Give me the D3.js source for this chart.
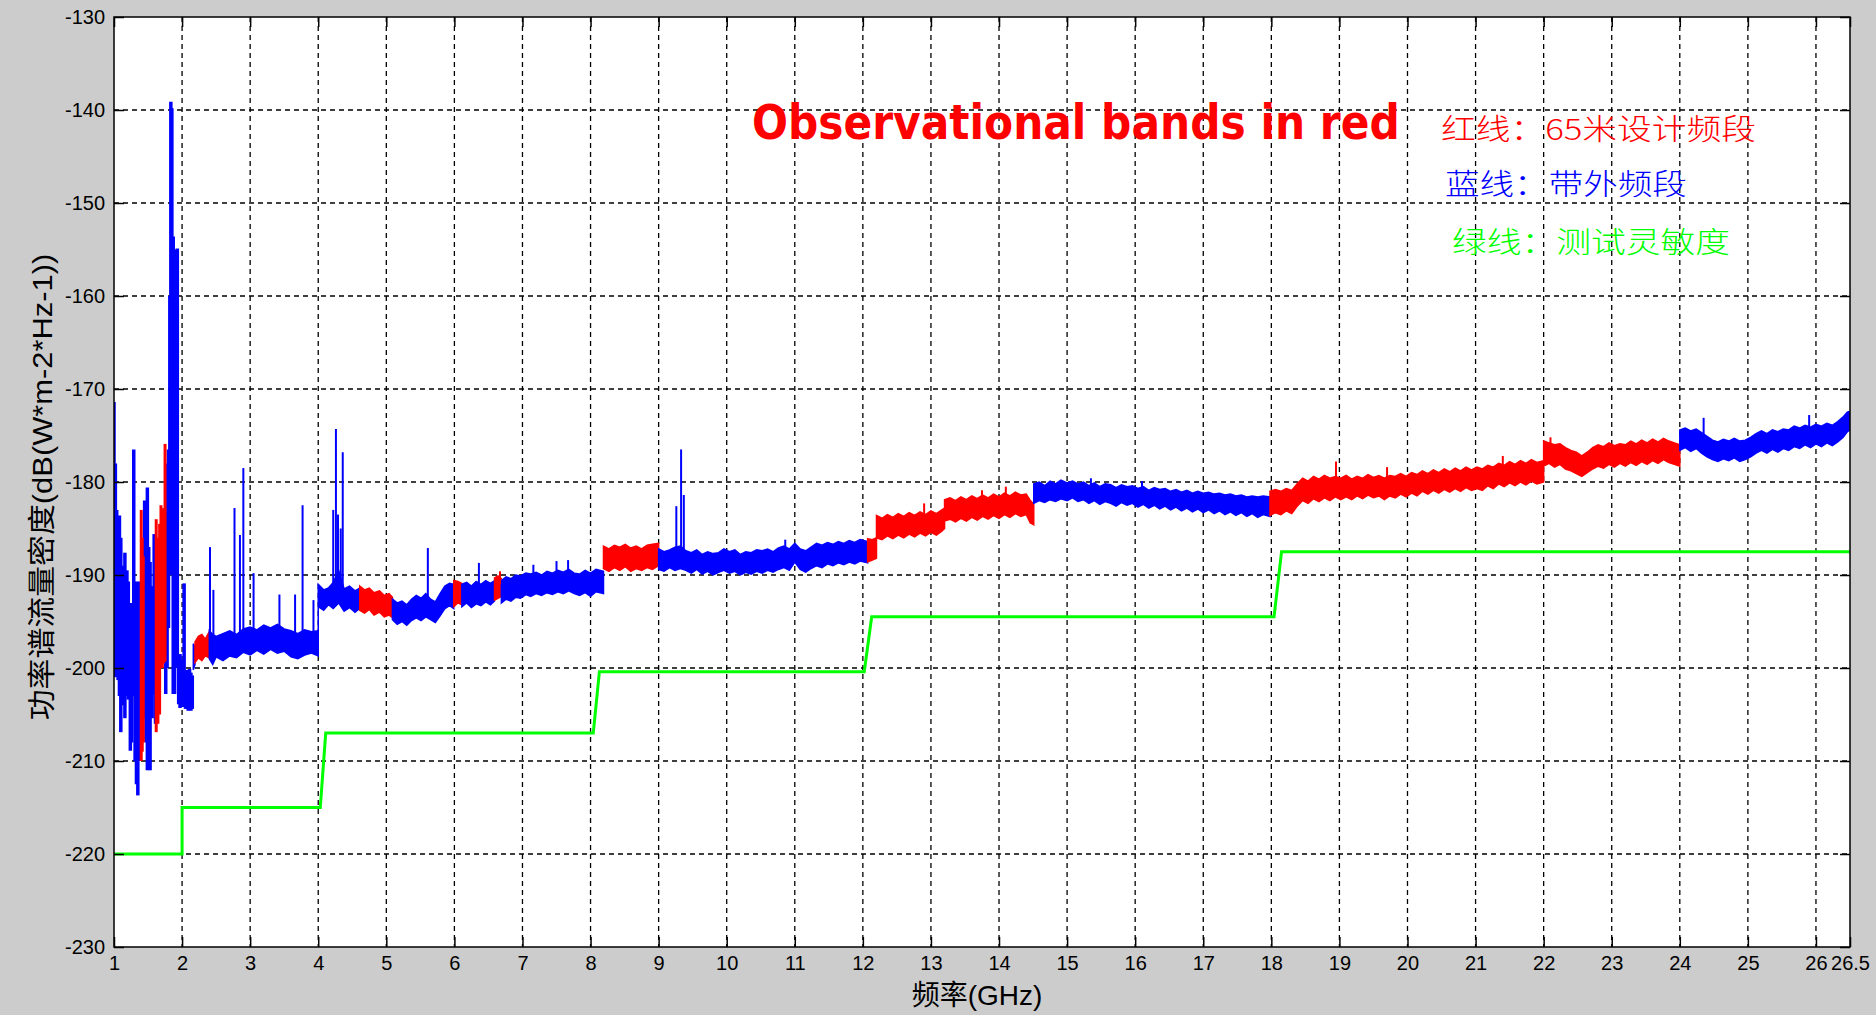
<!DOCTYPE html>
<html>
<head>
<meta charset="utf-8">
<script src="https://cdn.jsdelivr.net/npm/d3@7"></script>
<style>
  html, body { margin: 0; padding: 0; background: #cccccc; }
  svg { display: block; }
</style>
</head>
<body>
<svg id="chart" width="1876" height="1015"></svg>
<script>
// ---- axis ticks ----
const xTicks = [1, 2, 3, 4, 5, 6, 7, 8, 9, 10, 11, 12, 13, 14, 15, 16, 17, 18, 19, 20, 21, 22, 23, 24, 25, 26, 26.5];
const yTicks = [-130, -140, -150, -160, -170, -180, -190, -200, -210, -220, -230];

// ---- green line: test sensitivity (GHz, dB) ----
const sensFreq = [1, 2, 2, 4.03, 4.11, 8.04, 8.13, 12.02, 12.13, 18.04, 18.15, 26.5];
const sensDb = [-220, -220, -215, -215, -207, -207, -200.4, -200.4, -194.5, -194.5, -187.5, -187.5];

// ---- 1-2.2 GHz region, drawn as dense vertical strokes [GHz, low, high] ----
const wildBlue = [
  [1.00, -188, -171.4], [1.02, -201, -178], [1.04, -199, -183], [1.06, -201.3, -184.5],
  [1.08, -203, -183.6], [1.10, -206.9, -186], [1.13, -204, -189], [1.16, -205.4, -187.6],
  [1.19, -203, -189.5], [1.21, -203.4, -190.7], [1.24, -208.9, -193], [1.26, -208, -194.2],
  [1.29, -203, -176.5], [1.31, -210, -191], [1.33, -212.5, -190.7], [1.35, -213.7, -192],
  [1.37, -210, -190.7], [1.385, -209.4, -191.5], [1.45, -205.4, -182], [1.47, -208, -186],
  [1.49, -211, -180.6], [1.51, -210, -187], [1.53, -211, -188.6], [1.56, -205.4, -191.2],
  [1.59, -202.8, -185.6], [1.61, -206, -190], [1.76, -202.8, -178], [1.78, -200, -182],
  [1.80, -195.7, -176.5], [1.82, -190, -160], [1.835, -187.6, -139.1], [1.85, -190, -139.8],
  [1.87, -202.8, -153.6], [1.89, -202.8, -169.3], [1.91, -200, -155], [1.93, -199.8, -154.9],
  [1.95, -203.9, -199.3], [1.97, -204.3, -198.5], [1.99, -203.9, -199.1], [2.01, -204.2, -199.5],
  [2.03, -204, -190.9], [2.05, -204.4, -200.8], [2.07, -204.1, -200.2], [2.09, -204.6, -200.6],
  [2.11, -204.3, -200.1], [2.13, -204.6, -200.5], [2.15, -204.4, -200.8]
];
const wildRed = [
  [1.40, -210, -183], [1.415, -209, -186], [1.43, -208, -188],
  [1.62, -206.9, -184], [1.645, -206, -186], [1.67, -205, -184.5],
  [1.69, -199.3, -182.5], [1.71, -200, -183], [1.73, -199.5, -182.8], [1.75, -199.3, -175.9]
];

// ---- noisy spectrum bands [GHz, low, high] ----
const blue0 = [[2.165, -200.2, -197.4], [2.19, -199.6, -197.8]];
const red1 = [[2.19, -199.4, -197.2], [2.24, -198.9, -196.6], [2.29, -199.2, -196.4], [2.34, -198.7, -196.9], [2.40, -198.9, -196.1]];
const blue2 = [
  [2.40, -199.0, -196.0], [2.45, -199.6, -196.4], [2.50, -198.8, -196.6], [2.60, -199.2, -196.3],
  [2.70, -198.7, -196.0], [2.80, -198.9, -196.4], [2.90, -198.3, -195.8], [3.00, -198.6, -195.6],
  [3.10, -198.1, -195.9], [3.20, -198.5, -195.4], [3.30, -198.0, -195.7], [3.40, -198.4, -195.3],
  [3.50, -198.2, -195.8], [3.60, -198.8, -196.0], [3.70, -199.0, -196.3], [3.80, -198.6, -195.9],
  [3.90, -198.4, -196.1], [4.00, -198.7, -196.0], [4.00, -193.4, -191.0], [4.08, -193.8, -191.6],
  [4.15, -193.2, -191.4], [4.22, -193.6, -190.8], [4.30, -193.0, -189.5], [4.38, -193.9, -191.5],
  [4.46, -193.5, -191.2], [4.54, -194.0, -191.7], [4.61, -193.6, -191.4]
];
const red3 = [
  [4.61, -193.8, -191.2], [4.68, -194.1, -191.6], [4.75, -193.7, -191.4], [4.82, -194.3, -191.9],
  [4.90, -194.0, -191.7], [4.97, -194.5, -192.2], [5.04, -194.3, -192.0], [5.09, -194.6, -192.4]
];
const blue4 = [
  [5.09, -194.8, -192.6], [5.16, -195.3, -193.0], [5.23, -195.0, -192.8], [5.30, -195.4, -193.2],
  [5.37, -194.9, -192.6], [5.44, -194.6, -192.2], [5.51, -194.9, -192.5], [5.58, -194.5, -192.0],
  [5.65, -194.8, -192.6], [5.72, -195.1, -192.9], [5.79, -194.4, -192.0], [5.86, -193.6, -191.2],
  [5.93, -193.3, -190.9], [5.99, -193.6, -191.0]
];
const red5 = [[5.99, -193.4, -190.6], [6.05, -193.0, -190.7], [6.11, -193.2, -190.9]];
const blue6 = [
  [6.11, -193.4, -191.0], [6.18, -193.0, -190.8], [6.25, -193.5, -191.2], [6.32, -193.1, -190.7],
  [6.39, -193.3, -191.0], [6.46, -192.9, -190.6], [6.53, -193.2, -190.9], [6.59, -192.8, -190.6]
];
const red7 = [[6.59, -192.7, -190.3], [6.64, -192.5, -190.1], [6.69, -192.3, -190.4]];
const blue8 = [
  [6.69, -193.0, -190.6], [6.76, -192.6, -190.2], [6.83, -192.8, -190.4], [6.90, -192.4, -190.0],
  [6.97, -192.5, -190.1], [7.05, -192.1, -189.8], [7.12, -192.3, -189.9], [7.20, -192.0, -189.7],
  [7.28, -192.2, -190.0], [7.36, -191.9, -189.6], [7.44, -192.1, -189.8], [7.52, -191.8, -189.5],
  [7.60, -192.0, -189.7], [7.68, -191.7, -189.4], [7.76, -192.0, -189.8], [7.84, -192.2, -189.9],
  [7.92, -191.9, -189.5], [8.00, -192.3, -189.8], [8.08, -191.8, -189.4], [8.19, -192.0, -189.6]
];
const red9 = [
  [8.19, -189.3, -186.9], [8.27, -189.6, -187.2], [8.35, -189.2, -186.8], [8.43, -189.5, -187.0],
  [8.51, -189.1, -186.7], [8.59, -189.6, -187.1], [8.67, -189.3, -186.9], [8.75, -189.5, -187.2],
  [8.83, -189.2, -186.8], [8.91, -189.4, -186.7], [9.00, -189.0, -186.6]
];
const blue10 = [
  [9.00, -189.4, -187.2], [9.08, -189.6, -187.5], [9.16, -189.2, -187.3], [9.24, -189.5, -187.0],
  [9.32, -189.3, -186.9], [9.40, -189.5, -187.4], [9.48, -189.8, -187.6], [9.56, -189.4, -187.3],
  [9.64, -189.9, -187.8], [9.72, -189.6, -187.5], [9.80, -190.0, -187.7], [9.88, -189.7, -187.6],
  [9.96, -189.5, -187.2], [10.04, -189.8, -187.5], [10.12, -189.6, -187.3], [10.20, -190.0, -187.8],
  [10.28, -189.7, -187.5], [10.36, -189.9, -187.6], [10.44, -189.6, -187.3], [10.52, -189.8, -187.4],
  [10.60, -189.5, -187.2], [10.68, -189.7, -187.5], [10.76, -189.4, -187.1], [10.84, -189.2, -186.9],
  [10.92, -189.5, -187.2], [11.00, -188.6, -186.6], [11.08, -189.4, -187.2], [11.16, -189.7, -187.4],
  [11.24, -189.3, -187.0], [11.32, -189.0, -186.6], [11.40, -189.2, -186.8], [11.48, -188.8, -186.5],
  [11.56, -189.0, -186.7], [11.64, -188.7, -186.4], [11.72, -188.9, -186.6], [11.80, -188.6, -186.3],
  [11.88, -188.8, -186.5], [11.96, -188.5, -186.2], [12.07, -188.7, -186.4]
];
const red11 = [
  [12.07, -188.6, -186.1], [12.14, -188.4, -186.2], [12.20, -188.2, -186.0], [12.20, -186.0, -183.6],
  [12.28, -186.2, -183.9], [12.36, -185.8, -183.5], [12.44, -186.1, -183.8], [12.52, -185.7, -183.4],
  [12.60, -186.0, -183.7], [12.68, -185.6, -183.3], [12.76, -185.9, -183.6], [12.84, -185.5, -183.2],
  [12.92, -185.8, -183.5], [13.00, -185.4, -183.1], [13.08, -185.7, -183.4], [13.16, -185.3, -183.0],
  [13.20, -185.0, -182.8], [13.20, -184.2, -181.9], [13.28, -184.0, -181.7], [13.36, -184.3, -182.0],
  [13.44, -183.9, -181.6], [13.52, -184.2, -181.9], [13.60, -183.8, -181.5], [13.68, -184.1, -181.8],
  [13.76, -183.7, -181.4], [13.84, -184.0, -181.7], [13.92, -183.6, -181.3], [14.00, -183.9, -181.6],
  [14.08, -183.5, -181.2], [14.16, -183.8, -181.5], [14.24, -183.4, -181.1], [14.32, -183.7, -181.4],
  [14.40, -183.5, -181.3], [14.46, -184.4, -182.0], [14.51, -184.6, -182.4]
];
const blue12 = [
  [14.51, -182.3, -180.2], [14.59, -182.0, -180.0], [14.67, -182.2, -180.4], [14.75, -181.9, -179.9],
  [14.83, -182.1, -180.2], [14.91, -181.8, -179.8], [15.00, -182.0, -180.1], [15.08, -181.7, -179.9],
  [15.16, -182.1, -180.2], [15.24, -181.9, -180.0], [15.32, -182.3, -180.4], [15.40, -182.0, -180.1],
  [15.48, -182.4, -180.5], [15.56, -182.1, -180.2], [15.64, -182.3, -180.3], [15.72, -182.6, -180.6],
  [15.80, -182.2, -180.3], [15.88, -182.5, -180.5], [15.96, -182.3, -180.4], [16.04, -182.7, -180.7],
  [16.12, -182.4, -180.5], [16.20, -182.8, -180.9], [16.28, -182.5, -180.6], [16.36, -182.9, -180.8],
  [16.44, -182.6, -180.7], [16.52, -183.0, -181.0], [16.60, -182.7, -180.8], [16.68, -183.1, -181.1],
  [16.76, -182.8, -180.9], [16.84, -183.2, -181.2], [16.92, -182.9, -181.0], [17.00, -183.3, -181.2],
  [17.08, -183.0, -181.1], [17.16, -183.4, -181.3], [17.24, -183.1, -181.2], [17.32, -183.5, -181.4],
  [17.40, -183.2, -181.3], [17.48, -183.6, -181.5], [17.56, -183.3, -181.4], [17.64, -183.7, -181.6],
  [17.72, -183.4, -181.5], [17.80, -183.8, -181.6], [17.88, -183.5, -181.5], [17.98, -183.7, -181.6]
];
const red13 = [
  [17.98, -183.6, -181.0], [18.06, -183.3, -180.8], [18.14, -183.5, -181.0], [18.22, -183.1, -180.7],
  [18.30, -183.4, -180.9], [18.38, -182.6, -180.2], [18.46, -182.0, -179.6], [18.54, -182.3, -179.9],
  [18.62, -181.8, -179.4], [18.70, -182.1, -179.7], [18.78, -181.7, -179.3], [18.86, -182.0, -179.6],
  [18.94, -181.6, -179.4], [19.02, -181.9, -179.6], [19.10, -181.6, -179.3], [19.18, -181.9, -179.7],
  [19.26, -181.5, -179.4], [19.34, -181.8, -179.6], [19.42, -181.4, -179.2], [19.50, -181.7, -179.5],
  [19.58, -181.5, -179.3], [19.66, -181.9, -179.6], [19.74, -181.5, -179.3], [19.82, -181.7, -179.4],
  [19.90, -181.3, -179.1], [19.98, -181.6, -179.4], [20.06, -181.2, -179.0], [20.14, -181.5, -179.2],
  [20.22, -181.0, -178.8], [20.30, -181.3, -179.1], [20.38, -180.9, -178.7], [20.46, -181.2, -179.0],
  [20.54, -180.8, -178.6], [20.62, -181.1, -178.9], [20.70, -180.7, -178.5], [20.78, -181.0, -178.8],
  [20.86, -180.6, -178.4], [20.94, -180.9, -178.7], [21.02, -180.7, -178.4], [21.10, -180.9, -178.6],
  [21.18, -180.4, -178.2], [21.26, -180.7, -178.4], [21.34, -180.2, -178.0], [21.42, -180.5, -178.2],
  [21.50, -180.1, -177.8], [21.58, -180.4, -178.1], [21.66, -180.0, -177.7], [21.74, -180.3, -178.0],
  [21.82, -179.9, -177.6], [21.90, -180.2, -177.9], [22.00, -180.0, -177.7], [22.00, -178.3, -175.6],
  [22.08, -178.0, -175.8], [22.16, -178.4, -176.0], [22.24, -178.1, -175.9], [22.32, -178.6, -176.3],
  [22.40, -178.8, -176.6], [22.48, -179.1, -176.8], [22.56, -179.4, -177.2], [22.64, -179.0, -176.8],
  [22.72, -178.6, -176.3], [22.80, -178.3, -176.0], [22.88, -178.5, -176.2], [22.96, -178.1, -175.8],
  [23.04, -178.4, -176.1], [23.12, -178.0, -175.9], [23.20, -178.3, -176.0], [23.28, -177.9, -175.6],
  [23.36, -178.2, -175.9], [23.44, -177.8, -175.5], [23.52, -178.1, -175.8], [23.60, -177.7, -175.4],
  [23.68, -178.0, -175.7], [23.76, -177.6, -175.3], [23.84, -177.9, -175.6], [23.92, -178.1, -175.8],
  [24.00, -178.3, -176.0]
];
const blue14 = [
  [24.00, -176.6, -174.4], [24.08, -176.3, -174.2], [24.16, -176.7, -174.5], [24.24, -176.4, -174.3],
  [24.32, -176.9, -174.7], [24.40, -177.3, -175.1], [24.48, -177.6, -175.5], [24.56, -177.8, -175.7],
  [24.64, -177.5, -175.4], [24.72, -177.7, -175.6], [24.80, -177.4, -175.3], [24.88, -177.8, -175.6],
  [24.96, -177.6, -175.5], [25.04, -177.3, -175.2], [25.12, -176.9, -174.8], [25.20, -176.6, -174.5],
  [25.28, -176.9, -174.8], [25.36, -176.5, -174.4], [25.44, -176.8, -174.6], [25.52, -176.4, -174.3],
  [25.60, -176.6, -174.4], [25.68, -176.2, -174.0], [25.76, -176.4, -174.2], [25.84, -176.0, -173.9],
  [25.92, -176.3, -174.1], [26.00, -175.9, -173.8], [26.08, -176.2, -174.0], [26.16, -175.8, -173.7],
  [26.24, -176.1, -173.9], [26.32, -175.7, -173.5], [26.40, -175.2, -173.0], [26.46, -174.6, -172.5],
  [26.50, -174.4, -172.4]
];

// ---- isolated spikes [GHz, base, top] ----
const spikesBlue = [
  [2.41, -197, -187], [2.46, -197, -191.6], [2.77, -196.5, -182.8], [2.85, -196.5, -185.7],
  [2.90, -196.5, -178.5], [3.05, -196, -189.8], [3.43, -196, -192.1], [3.66, -196.5, -192.1],
  [3.77, -196.5, -182.5], [3.93, -196.5, -192.7], [4.22, -192, -183], [4.26, -192, -174.3],
  [4.29, -192, -183.5], [4.33, -192, -185], [4.36, -192, -176.8], [5.61, -193, -187.1],
  [6.36, -191.5, -188.7], [7.16, -190.5, -188.9], [7.50, -190.5, -188.5], [7.67, -190.5, -188.4],
  [9.26, -188, -182.6], [9.33, -188, -176.5], [9.37, -188, -181.4], [10.86, -188, -186.2],
  [15.35, -181, -179.6], [16.1, -181.5, -179.9], [24.35, -175, -173.1], [25.9, -174.5, -172.8]
];
const spikesRed = [
  [6.67, -191, -189.6], [12.9, -184, -182.3], [13.75, -182.5, -180.9], [14.1, -182, -180.5],
  [18.95, -180, -177.8], [19.7, -180, -178.4], [21.4, -179, -177.2], [22.1, -177, -175.2]
];

const red = '#ff0000', blue = '#0000ff', green = '#00ff00';
const bands = [
  [blue0, blue], [red1, red], [blue2, blue], [red3, red], [blue4, blue], [red5, red],
  [blue6, blue], [red7, red], [blue8, blue], [red9, red], [blue10, blue], [red11, red],
  [blue12, blue], [red13, red], [blue14, blue]
];

const width = 1876, height = 1015;
const plotL = 114, plotR = 1850, plotT = 17, plotB = 947;
const fontLatin = '"Liberation Sans", Arial, "Noto Sans CJK SC", sans-serif';

const svg = d3.select('#chart');
svg.append('rect').attr('width', width).attr('height', height).attr('fill', '#cccccc');

const x = d3.scaleLinear().domain([1, 26.5]).range([plotL, plotR]);
const y = d3.scaleLinear().domain([-230, -130]).range([plotB, plotT]);

svg.append('rect')
  .attr('x', plotL).attr('y', plotT)
  .attr('width', plotR - plotL).attr('height', plotB - plotT)
  .attr('fill', '#ffffff');

svg.append('clipPath').attr('id', 'plotClip')
  .append('rect')
  .attr('x', plotL).attr('y', plotT)
  .attr('width', plotR - plotL).attr('height', plotB - plotT);

// grid
const grid = svg.append('g').attr('stroke', '#000').attr('stroke-width', 1.3).attr('stroke-dasharray', '5,4');
grid.selectAll('line.v')
  .data(xTicks.filter(t => t > 1 && t < 26.5))
  .join('line')
  .attr('x1', d => x(d)).attr('x2', d => x(d))
  .attr('y1', plotT).attr('y2', plotB);
grid.selectAll('line.h')
  .data(yTicks.filter(t => t > -230 && t < -130))
  .join('line')
  .attr('x1', plotL).attr('x2', plotR)
  .attr('y1', d => y(d)).attr('y2', d => y(d));

const plot = svg.append('g').attr('clip-path', 'url(#plotClip)');

// green sensitivity line
const sens = sensFreq.map((f, i) => [f, sensDb[i]]);
plot.append('path')
  .datum(sens)
  .attr('d', d3.line().x(d => x(d[0])).y(d => y(d[1])))
  .attr('fill', 'none')
  .attr('stroke', green)
  .attr('stroke-width', 3);

// vertical strokes (low band + spikes)
const drawStrokes = (data, color, w) => {
  plot.append('g').selectAll('line')
    .data(data)
    .join('line')
    .attr('x1', d => x(d[0])).attr('x2', d => x(d[0]))
    .attr('y1', d => y(d[1])).attr('y2', d => y(d[2]))
    .attr('stroke', color)
    .attr('stroke-width', w);
};
drawStrokes(wildBlue, blue, 3.5);
drawStrokes(wildRed, red, 3);

// noisy bands
const area = d3.area().x(d => x(d[0])).y0(d => y(d[1])).y1(d => y(d[2]));
bands.forEach(([pts, color]) => {
  plot.append('path')
    .datum(pts)
    .attr('d', area)
    .attr('fill', color)
    .attr('stroke', color)
    .attr('stroke-width', 1.5);
});

drawStrokes(spikesBlue, blue, 2);
drawStrokes(spikesRed, red, 2);

// frame
svg.append('rect')
  .attr('x', plotL).attr('y', plotT)
  .attr('width', plotR - plotL).attr('height', plotB - plotT)
  .attr('fill', 'none')
  .attr('stroke', '#000')
  .attr('stroke-width', 1.5);

// axes, ticks pointing inwards
const styleAxis = g => {
  g.select('.domain').remove();
  g.selectAll('line').attr('stroke', '#000').attr('stroke-width', 1.5);
  g.selectAll('text').attr('font-family', fontLatin).attr('font-size', 20).attr('fill', '#000');
};

svg.append('g')
  .attr('transform', `translate(0,${plotB})`)
  .call(d3.axisBottom(x).tickValues(xTicks).tickSize(-10).tickSizeOuter(0).tickPadding(9).tickFormat(d => d))
  .call(styleAxis);
svg.append('g')
  .attr('transform', `translate(0,${plotT})`)
  .call(d3.axisTop(x).tickValues(xTicks).tickSize(-10).tickSizeOuter(0).tickFormat(''))
  .call(styleAxis);
svg.append('g')
  .attr('transform', `translate(${plotL},0)`)
  .call(d3.axisLeft(y).tickValues(yTicks).tickSize(-10).tickSizeOuter(0).tickPadding(9).tickFormat(d => d))
  .call(styleAxis);
svg.append('g')
  .attr('transform', `translate(${plotR},0)`)
  .call(d3.axisRight(y).tickValues(yTicks).tickSize(-10).tickSizeOuter(0).tickFormat(''))
  .call(styleAxis);

// squeeze a text horizontally to a target width (real transform, so its box shrinks too)
const fitText = (sel, tx, ty, rot, len) => {
  const w = sel.node().getComputedTextLength();
  const k = w > 0 ? len / w : 1;
  sel.attr('transform', `translate(${tx},${ty}) rotate(${rot}) scale(${k},1)`);
};

// axis titles
svg.append('text')
  .attr('x', 977).attr('y', 995)
  .attr('text-anchor', 'middle')
  .attr('dominant-baseline', 'central')
  .attr('font-family', fontLatin)
  .attr('font-size', 28)
  .attr('fill', '#000')
  .text('频率(GHz)');

const yTitle = svg.append('text')
  .attr('text-anchor', 'middle')
  .attr('dominant-baseline', 'central')
  .attr('font-family', fontLatin)
  .attr('font-size', 28)
  .attr('fill', '#000')
  .text('功率谱流量密度(dB(W*m-2*Hz-1))');
fitText(yTitle, 42, 487, -90, 467);

// annotations
const bigNote = svg.append('text')
  .attr('font-family', '"DejaVu Sans", Verdana, sans-serif')
  .attr('font-weight', 'bold')
  .attr('font-size', 48)
  .attr('fill', red)
  .text('Observational bands in red');
fitText(bigNote, 752, 139, 0, 648);

const notes = [
  { text: '红线：65米设计频段', color: red, x: 1441, y: 127, len: 315 },
  { text: '蓝线：带外频段', color: blue, x: 1445, y: 182, len: 242 },
  { text: '绿线：测试灵敏度', color: green, x: 1452, y: 240, len: 278 }
];
svg.append('g').selectAll('text')
  .data(notes)
  .join('text')
  .attr('dominant-baseline', 'central')
  .attr('font-family', '"Noto Sans CJK SC", sans-serif')
  .attr('font-weight', 300)
  .attr('font-size', 29)
  .attr('fill', d => d.color)
  .text(d => d.text)
  .each(function (d) { fitText(d3.select(this), d.x, d.y, 0, d.len); });
</script>
</body>
</html>
